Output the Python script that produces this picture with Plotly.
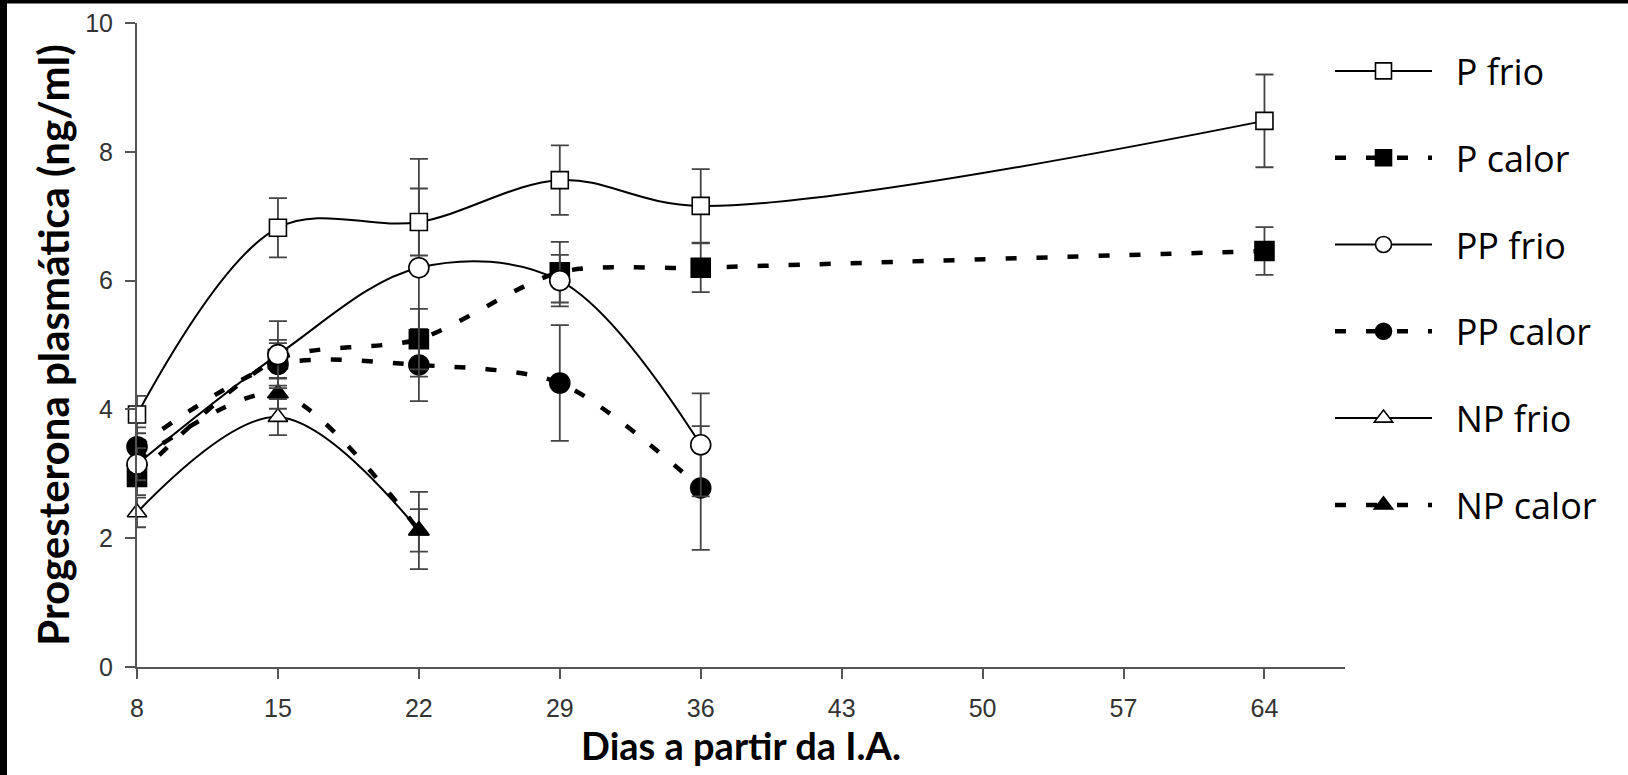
import plotly.graph_objects as go

# ---- data ----
days_p = [8, 15, 22, 29, 36, 64]
days_pp = [8, 15, 22, 29, 36]
days_np = [8, 15, 22]

p_frio = [3.92, 6.82, 6.91, 7.56, 7.16, 8.48]
p_frio_err = [0.29, 0.46, 0.52, 0.54, 0.57, 0.72]
p_calor = [2.95, 4.78, 5.09, 6.13, 6.20, 6.46]
p_calor_err = [0.28, 0.30, 0.47, 0.47, 0.38, 0.37]
pp_frio = [3.15, 4.85, 6.20, 6.00, 3.45]
pp_frio_err = [0.25, 0.52, 1.69, 0.40, 0.80]
pp_calor = [3.42, 4.70, 4.69, 4.41, 2.78]
pp_calor_err = [0.30, 0.33, 0.56, 0.90, 0.96]
np_frio = [2.40, 3.88, 2.12]
np_frio_err = [0.23, 0.28, 0.60]
np_calor = [3.20, 4.25, 2.12]
np_calor_err = [0.26, 0.24, 0.33]

x_ticks = [8, 15, 22, 29, 36, 43, 50, 57, 64]
y_ticks = [0, 2, 4, 6, 8, 10]

W, H = 1628, 775
ML, MR, MT, MB = 137, 283, 23, 108
PW, PH = W - ML - MR, H - MT - MB

ERR = "#444444"
NB = "\u00a0\u00a0"


def trace(name, x, y, err, symbol, filled, size, dashed, rank):
    return go.Scatter(
        x=x, y=y, name=NB + name, mode="lines+markers",
        legendgroup=name, legendrank=rank,
        line=dict(color="black", width=4.5 if dashed else 2,
                  dash="11px,20px" if dashed else "solid",
                  shape="spline", smoothing=0.8 if dashed else 1.0),
        marker=dict(symbol=symbol, size=size,
                    color="black" if filled else "white",
                    line=dict(color="black", width=1.6)),
        error_y=dict(type="data", array=err, visible=True,
                     color=ERR, thickness=1.8, width=9),
        cliponaxis=False,
    )


fig = go.Figure()
fig.add_trace(trace("NP frio", days_np, np_frio, np_frio_err, "triangle-up", False, 17, False, 5))
fig.add_trace(trace("NP calor", days_np, np_calor, np_calor_err, "triangle-up", True, 18, True, 6))
fig.add_trace(trace("PP calor", days_pp, pp_calor, pp_calor_err, "circle", True, 20, True, 4))
fig.add_trace(trace("P calor", days_p, p_calor, p_calor_err, "square", True, 19, True, 2))
fig.add_trace(trace("PP frio", days_pp, pp_frio, pp_frio_err, "circle", False, 20, False, 3))
fig.add_trace(trace("P frio", days_p, p_frio, p_frio_err, "square", False, 17, False, 1))

axis_common = dict(
    showline=True, linecolor="#555555", linewidth=2,
    ticks="outside", ticklen=10, tickwidth=2, tickcolor="#555555",
    showgrid=False, zeroline=False,
    tickfont=dict(family="Liberation Sans, Arial", size=25, color="#333333"),
)

fig.update_xaxes(range=[8, 68], tickvals=x_ticks, ticklabelstandoff=8,
                 title=dict(text="<b>Dias a partir da I.A.</b>",
                            font=dict(family="Lato", size=38, color="black"),
                            standoff=12),
                 **axis_common)
fig.update_yaxes(range=[0, 10], tickvals=y_ticks, ticklabelstandoff=7,
                 title=dict(text="<b>Progesterona plasmática (ng/ml)</b>",
                            font=dict(family="Lato", size=42, color="black"),
                            standoff=2),
                 **axis_common)


def px_x(p):
    return (p - ML) / PW


def px_y(p):
    return (H - MB - p) / PH


# black frame strips on the left and top of the picture
fig.add_shape(type="rect", xref="paper", yref="paper", layer="above",
              x0=px_x(0), x1=px_x(7), y0=px_y(H), y1=px_y(0),
              fillcolor="black", line_width=0)
fig.add_shape(type="rect", xref="paper", yref="paper", layer="above",
              x0=px_x(0), x1=px_x(W), y0=px_y(3.5), y1=px_y(0),
              fillcolor="black", line_width=0)

fig.update_layout(
    width=W, height=H,
    margin=dict(l=ML, r=MR, t=MT, b=MB, autoexpand=False),
    paper_bgcolor="white", plot_bgcolor="white",
    showlegend=True,
    legend=dict(x=px_x(1330), xanchor="left", y=px_y(41), yanchor="top",
                traceorder="grouped", tracegroupgap=37, itemwidth=97,
                font=dict(family="Open Sans", size=36, color="black"),
                bgcolor="rgba(0,0,0,0)", borderwidth=0),
)

fig.write_html(
    "out.html",
    config={"displayModeBar": False},
    post_script="document.body.style.margin='0';document.body.style.overflow='hidden';",
)
